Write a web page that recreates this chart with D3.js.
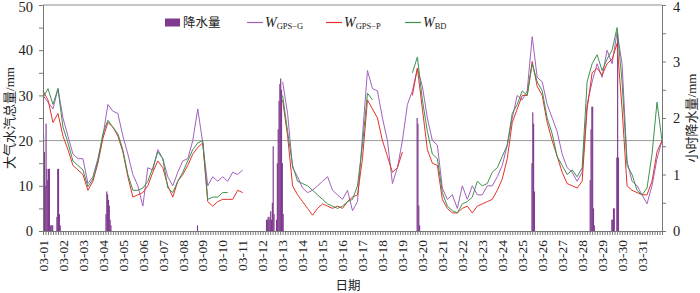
<!DOCTYPE html>
<html>
<head>
<meta charset="utf-8">
<script src="https://cdn.jsdelivr.net/npm/d3@7"></script>
<style>
body { margin: 0; background: #fff; }
text { font-family: "Liberation Serif", "Noto Sans CJK SC", serif; fill: #222; }
</style>
</head>
<body>
<svg id="chart" width="700" height="293"></svg>
<script>
// date tick labels, one per day
const dateLabels = ["03-01","03-02","03-03","03-04","03-05","03-06","03-07","03-08","03-09","03-10",
    "03-11","03-12","03-13","03-14","03-15","03-16","03-17","03-18","03-19","03-20",
    "03-21","03-22","03-23","03-24","03-25","03-26","03-27","03-28","03-29","03-30","03-31"];
const stepHours = 6;   // one sample every 6 h, starting 03-01 00:00

// water vapour (mm), null = no data
const wGpsG = [
    30, 28.5, 27, 31.5,   25, 21, 17, 16,   16, 10.5, 12, 16,   21, 28, 26.5, 26,
    21, 17, 12.5, 10,     5.5, 14, 13.5, 18, 16, 12, 10, 13,    15.5, 16, 20, 27,
    19.5, 10, 12, 11,     12, 11, 13, 12.5,  13.5, null, null, null, null, null, null, null,
    33, 26, 14, 12,       9.5, 8.5, 9, 10,  11, 12, 9, 8,       7, 9, 4.5, 6.5,
    21, 35.5, 31.5, 31,   25, 20, 10.5, 14, 20, 28, 31, 36,     32, 25, 20, 19,
    9.5, 7, 8, 5,         10, 7, 10, 8,     8, 10, 10, 12,      14.5, 19, 25, 30,
    29, 31, 43, 34,       33, 28, 25, 22,   17, 14, 13, 11,     13, 28, 33, 37,
    34, 40, 37, 44,       37, 15.5, 11, 10, 8, 6, 10, 16,       20];
const wGpsP = [
    31, 29, 24, 26,       21, 18, 14.5, 13.5, 12.5, 9, 11, 15, 20.5, 24, 23, 21,
    17.5, 12, 7.5, 8,     8.5, 10, 13, 15.5, 14, 10, 7.5, 11,   12.5, 14.5, 17, 18.5,
    19.5, 6.5, 5.5, 6.5,  7, 7, 7, 9,       8.5, null, null, null, null, null, null, null,
    29, 21, 10, 8,        6.5, 5, 3.5, 5,   6, 5.5, 5, 5.5,     5, 6.5, 7.5, 8,
    16, 29, 27, 25,       20, 16.5, 13, 14, 17.5, null, 30, 36, 27, 18, 15, 14.5,
    7, 5, 4, 4,           5, 5.5, 4, 5.5,   6, 6.5, 7, 9,       11.5, 16, 24, 27,
    30, 30, 37.5, 32,     30, 24, 20, 16.5, 13, 10.5, 10, 9.5,  11, 27, 35, 36,
    34.5, 37, 38, 41.5,   27, 10, 9, 8.5,   8, 8, 11, 17.5,     20];
const wBd = [
    29.5, 31.5, 28, 31.5, 23, 19.5, 15.5, 14.5, 13.5, 9.8, 11.5, 15.5, 21.5, 24.5, 23, 21.5,
    18, 12.5, 9, 9,       9.5, 11, 14, 17.5, 16, 9.5, 8.5, 11,  13, 15.5, 18, 19.5,
    20, 7, 7.5, 7.5,      8.5, 8.5, null, null, null, null, null, null, null, null, null, null,
    30, 22, 14.5, 11,     10.5, 10, 9, 8,   7, 6, 5.5, 5,       5.5, 6.5, 7, 10,
    19, 30.5, 29, null,   null, null, null, null, null, null, 35, 38.5, 29, 22, 17, 16,
    8.5, 5.5, 4.5, 4,     6, 6.5, 7.5, 11,  10, 10.5, 13, 14,   16.5, 19, 26, 28,
    31, 30, 37, 33,       31, 25, 21.5, 16.5, 14.5, 12.5, 13.5, 12, 14, 33, 37, 39,
    35.5, 38, 40, 45,     33, 14.5, 12.5, 9, 8, 9.5, 17, 28.5,  20];

// hourly precipitation (mm), hour counted from 03-01 00:00
const rainHour = [0,1,2,3,4,5,6,7,8,9,10,11, 16,17,18,19,20, 75,76,77,78,79,80,81, 185,
    268,269,270,271,272,273,274,275,276,277, 280,281,282,283,284,285,286,287,288,
    449,450,451,452, 587,588,589,590, 657,658,659,660,661,662, 683,684,685,686,689,690,691];
const rainMm = [1.7,1.4,0.8,1.9,1.1,0.9,1.1,1.1,0.1,0.1,0.1,0.1, 0.25,1.1,1.1,0.3,0.1,
    0.3,0.7,0.65,0.55,0.45,0.2,0.1, 0.1,
    0.2,0.2,0.25,0.25,0.2,0.35,0.2,0.5,1.5,0.3, 0.2,1.2,1.8,2.3,2.6,2.7,2.5,1.2,0.3,
    2.0,1.9,0.45,0.1, 1.2,2.1,1.9,0.7, 0.9,1.8,2.2,2.2,0.4,0.1, 0.2,0.2,0.4,0.4,1.3,3.5,1.3];

const leftTicks = [0, 5, 10, 15, 20, 25, 30, 35, 40, 45, 50];
const rightTicks = [0, 0.5, 1, 1.5, 2, 2.5, 3, 3.5, 4];

const series = [
    {name: "GPS\u2212G", values: wGpsG, color: "#a261bd"},
    {name: "GPS\u2212P", values: wGpsP, color: "#e2332b"},
    {name: "BD", values: wBd, color: "#3f9150"}
];

const margin = {top: 5, right: 38, bottom: 62, left: 43};
const width = 700 - margin.left - margin.right;
const height = 293 - margin.top - margin.bottom;

const svg = d3.select("#chart");
const g = svg.append("g").attr("transform", "translate(" + margin.left + "," + margin.top + ")");

const x = d3.scaleLinear().domain([0, 31 * 24]).range([0, width]);
const yL = d3.scaleLinear().domain([0, 50]).range([height, 0]);
const yR = d3.scaleLinear().domain([0, 4]).range([height, 0]);

// frame top + reference line at 20
g.append("line").attr("x1", 0).attr("x2", width).attr("y1", 0).attr("y2", 0)
    .attr("stroke", "#b5b5b5").attr("stroke-width", 1.5);
g.append("line").attr("x1", 0).attr("x2", width).attr("y1", yL(20)).attr("y2", yL(20))
    .attr("stroke", "#9a9a9a").attr("stroke-width", 1);

// precipitation bars
const barW = x(1) - x(0);
g.selectAll(".bar")
    .data(rainHour.map((h, i) => ({h: h, v: rainMm[i]})))
    .join("rect")
    .attr("class", "bar")
    .attr("x", d => x(d.h))
    .attr("width", barW + 0.3)
    .attr("y", d => yR(d.v))
    .attr("height", d => yR(0) - yR(d.v))
    .attr("fill", "#7e3a8e");

// water vapour lines
const line = d3.line()
    .defined(d => d != null)
    .x((d, i) => x(i * stepHours))
    .y(d => yL(d));

g.selectAll(".series")
    .data(series)
    .join("path")
    .attr("class", "series")
    .attr("fill", "none")
    .attr("stroke", d => d.color)
    .attr("stroke-width", 1)
    .attr("d", d => line(d.values));

// axes
const leftAxis = g.append("g")
    .call(d3.axisLeft(yL).tickValues(leftTicks).tickSize(4).tickPadding(6)
        .tickFormat(d => d % 10 === 0 ? d : ""));
leftAxis.selectAll("text").style("font-size", "14.5px");

const rightAxis = g.append("g")
    .attr("transform", "translate(" + width + ",0)")
    .call(d3.axisRight(yR).tickValues(rightTicks).tickSize(4).tickPadding(7)
        .tickFormat(d => Number.isInteger(d) ? d : ""));
rightAxis.selectAll("text").style("font-size", "14.5px");

// keep the top labels inside the picture
[leftAxis, rightAxis].forEach(a => a.selectAll("text").filter(d => d === 50 || d === 4).attr("dy", "0.45em"));

const bottomAxis = g.append("g")
    .attr("transform", "translate(0," + height + ")")
    .call(d3.axisBottom(x).tickValues(d3.range(0, 31 * 24 + 1, 3)).tickSize(4).tickFormat(""));

[leftAxis, rightAxis, bottomAxis].forEach(a => {
    a.select(".domain").attr("stroke", "#777");
    a.selectAll(".tick line").attr("stroke", "#777");
});

g.selectAll(".date-label")
    .data(dateLabels)
    .join("text")
    .attr("class", "date-label")
    .attr("transform", (d, i) => "translate(" + x(i * 24) + "," + (height + 9) + ") rotate(-90)")
    .attr("text-anchor", "end")
    .attr("dy", "0.35em")
    .style("font-size", "13.5px")
    .text(d => d);

// axis titles
svg.append("text")
    .attr("transform", "translate(14," + (margin.top + height / 2) + ") rotate(-90)")
    .attr("text-anchor", "middle")
    .style("font-size", "13px")
    .text("大气水汽总量/mm");
svg.append("text")
    .attr("transform", "translate(696," + (margin.top + height / 2) + ") rotate(-90)")
    .attr("text-anchor", "middle")
    .style("font-size", "13px")
    .text("小时降水量/mm");
svg.append("text")
    .attr("x", 348).attr("y", 290)
    .attr("text-anchor", "middle")
    .style("font-size", "12.5px")
    .text("日期");

// legend
const legend = svg.append("g");
legend.append("rect").attr("x", 165).attr("y", 18.5).attr("width", 15).attr("height", 8)
    .attr("fill", "#7e3a8e");
legend.append("text").attr("x", 183).attr("y", 27).style("font-size", "12.5px").text("降水量");

const legendX = [247, 326, 405];
series.forEach((s, i) => {
    const lx = legendX[i];
    legend.append("line").attr("x1", lx).attr("x2", lx + 16).attr("y1", 22.5).attr("y2", 22.5)
        .attr("stroke", s.color).attr("stroke-width", 1.2);
    const t = legend.append("text").attr("x", lx + 18).attr("y", 27).style("font-size", "14px");
    t.append("tspan").style("font-style", "italic").text("W");
    t.append("tspan").attr("dy", 2).style("font-size", "8.5px").text(s.name);
});
</script>
</body>
</html>
